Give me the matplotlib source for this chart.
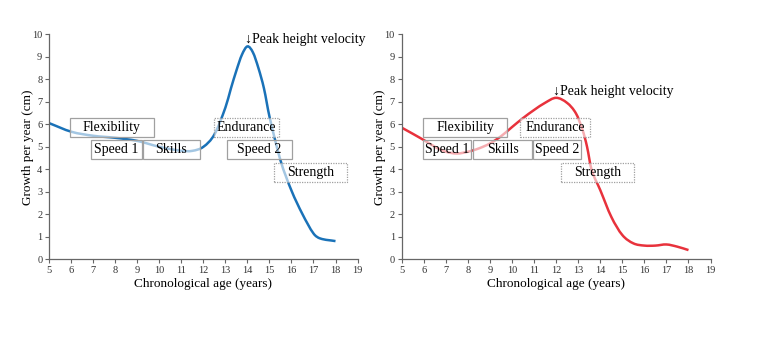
"""
Growth per year vs chronological age, two panels,
with trainability windows drawn as labelled boxes.
"""

import numpy as np
import matplotlib.pyplot as plt
from matplotlib.path import Path
from matplotlib.patches import PathPatch, Rectangle

plt.rcParams["font.family"] = ["Liberation Serif", "DejaVu Serif"]

# ── data ────────────────────────────────────────────────────────
age_left = [5, 6, 7, 8, 9, 10, 11, 11.5, 12, 12.5, 13, 13.25, 13.5, 13.75,
            14, 14.25, 14.5, 14.75, 15, 15.5, 16, 16.5, 17, 17.3, 18]
growth_left = [6.05, 5.67, 5.49, 5.4, 5.26, 5.0, 4.82, 4.82, 5.0, 5.55, 6.75,
               7.6, 8.4, 9.1, 9.47, 9.2, 8.5, 7.6, 6.35, 4.4, 3.05, 2.0,
               1.14, 0.92, 0.8]

age_right = [5, 6, 6.5, 7, 7.5, 8, 8.5, 9, 9.5, 10, 10.5, 11, 11.5, 12,
             12.5, 12.9, 13.2, 13.4, 13.6, 14, 14.5, 15, 15.5, 16, 16.5, 17,
             17.5, 18]
growth_right = [5.85, 5.3, 5.0, 4.78, 4.7, 4.78, 4.93, 5.15, 5.47, 5.88,
                6.28, 6.64, 6.96, 7.18, 6.95, 6.48, 5.74, 5.0, 4.0, 3.07,
                1.88, 1.07, 0.7, 0.6, 0.6, 0.65, 0.55, 0.4]

# boxes: label, x0, x1, y0, y1, dotted
boxes_left = [
    ("Flexibility", 5.95, 9.74, 5.45, 6.3, False),
    ("Speed 1", 6.9, 9.2, 4.44, 5.3, False),
    ("Skills", 9.24, 11.85, 4.44, 5.3, False),
    ("Endurance", 12.49, 15.44, 5.45, 6.3, True),
    ("Speed 2", 13.08, 16.03, 4.44, 5.3, False),
    ("Strength", 15.21, 18.52, 3.41, 4.26, True),
]
boxes_right = [
    ("Flexibility", 5.97, 9.78, 5.42, 6.26, False),
    ("Endurance", 10.37, 13.54, 5.42, 6.26, True),
    ("Speed 1", 5.97, 8.14, 4.44, 5.28, False),
    ("Skills", 8.24, 10.91, 4.44, 5.28, False),
    ("Speed 2", 10.96, 13.13, 4.44, 5.28, False),
    ("Strength", 12.2, 15.54, 3.44, 4.29, True),
]

peak_left = (14.03, 9.48)
peak_right = (12.0, 7.2)

BLUE = "#1a72b8"
RED = "#e8323c"


def smooth_path(x, y):
    """Hermite curve through the points, drawn as cubic Bezier segments."""
    x = np.asarray(x, float)
    y = np.asarray(y, float)
    n = len(x)
    m = np.empty(n)
    m[0] = (y[1] - y[0]) / (x[1] - x[0])
    m[-1] = (y[-1] - y[-2]) / (x[-1] - x[-2])
    for i in range(1, n - 1):
        m[i] = (y[i + 1] - y[i - 1]) / (x[i + 1] - x[i - 1])
    verts = [(x[0], y[0])]
    codes = [Path.MOVETO]
    for i in range(n - 1):
        h = x[i + 1] - x[i]
        verts += [(x[i] + h / 3, y[i] + m[i] * h / 3),
                  (x[i + 1] - h / 3, y[i + 1] - m[i + 1] * h / 3),
                  (x[i + 1], y[i + 1])]
        codes += [Path.CURVE4] * 3
    return Path(verts, codes)


def draw_panel(ax, ages, growth, color, boxes, peak):
    ax.add_patch(PathPatch(smooth_path(ages, growth), facecolor="none",
                           edgecolor=color, lw=1.8, zorder=2))
    for label, x0, x1, y0, y1, dotted in boxes:
        ax.add_patch(Rectangle((x0, y0), x1 - x0, y1 - y0,
                               facecolor=(1, 1, 1, 0.6), edgecolor="#a0a0a0",
                               lw=0.9, ls=(0, (1, 1)) if dotted else "-",
                               zorder=3))
        ax.text((x0 + x1) / 2, (y0 + y1) / 2, label, ha="center",
                va="center", fontsize=10, zorder=4)
    ax.text(peak[0] - 0.14, peak[1] + 0.12, "\u2193Peak height velocity",
            ha="left", va="baseline", fontsize=10, zorder=4)

    ax.set_xlim(5, 19)
    ax.set_ylim(0, 10)
    ax.set_xticks(range(5, 20))
    ax.set_yticks(range(0, 11))
    ax.tick_params(labelsize=7.5, length=3, width=0.8, color="#666666",
                   labelcolor="#333333", pad=2)
    for s in ("top", "right"):
        ax.spines[s].set_visible(False)
    for s in ("left", "bottom"):
        ax.spines[s].set_color("#666666")
        ax.spines[s].set_linewidth(0.9)
    ax.set_xlabel("Chronological age (years)", fontsize=9.5, labelpad=2)
    ax.set_ylabel("Growth per year (cm)", fontsize=9.5, labelpad=-1)


fig = plt.figure(figsize=(7.61, 3.52), dpi=100)
ax1 = fig.add_axes([0.0648, 0.264, 0.405, 0.638])
ax2 = fig.add_axes([0.528, 0.264, 0.4057, 0.638])

draw_panel(ax1, age_left, growth_left, BLUE, boxes_left, peak_left)
draw_panel(ax2, age_right, growth_right, RED, boxes_right, peak_right)

fig.savefig("out.png", dpi=100, facecolor="white")
